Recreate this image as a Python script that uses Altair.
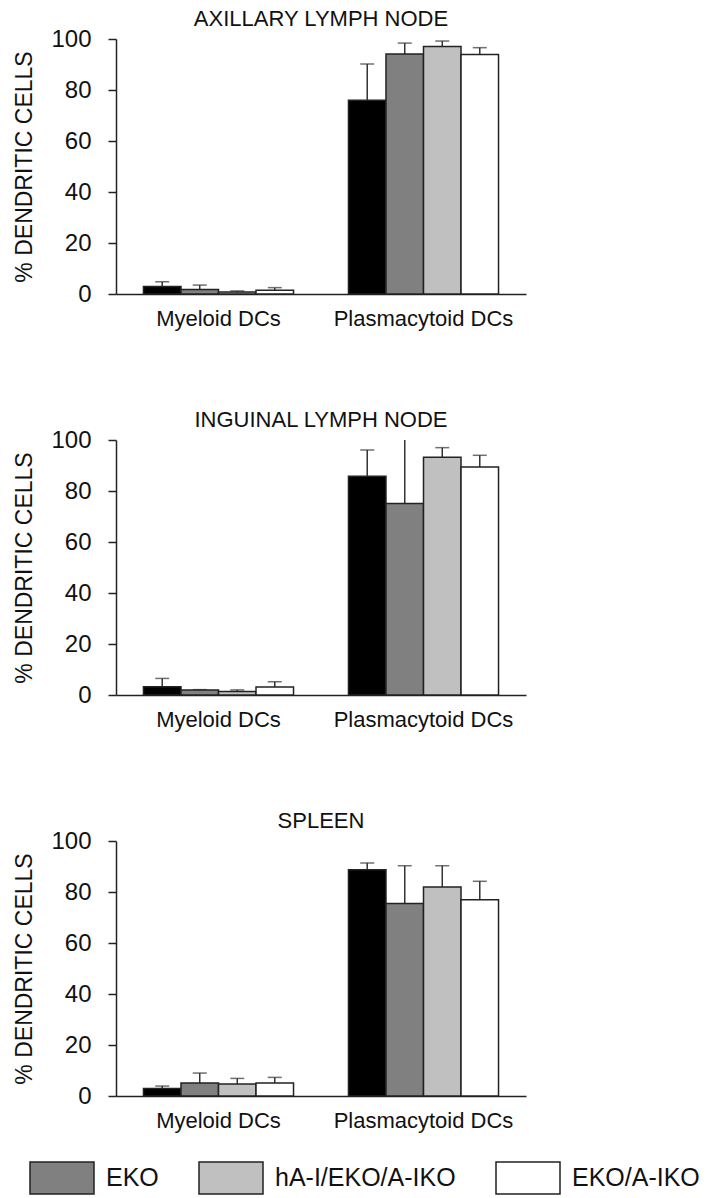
import altair as alt
import pandas as pd

panels = ["AXILLARY LYMPH NODE", "INGUINAL LYMPH NODE", "SPLEEN"]
cells = ["Myeloid DCs", "Plasmacytoid DCs"]
groups = ["WT", "EKO", "hA-I/EKO/A-IKO", "EKO/A-IKO"]
legend_groups = ["EKO", "hA-I/EKO/A-IKO", "EKO/A-IKO"]
fill_colors = ["#000000", "#808080", "#c0c0c0", "#ffffff"]

# mean values per panel: [myeloid x4, plasmacytoid x4]
axillary_mean = [2.9, 1.8, 0.8, 1.5, 76.0, 94.1, 97.1, 93.9]
axillary_err = [1.9, 1.7, 0.4, 1.0, 14.2, 4.3, 2.1, 2.7]
inguinal_mean = [3.2, 2.0, 1.4, 3.1, 85.8, 75.1, 93.2, 89.4]
inguinal_err = [3.3, 0.1, 0.6, 2.1, 10.3, 26.0, 3.8, 4.6]
spleen_mean = [2.9, 5.1, 4.7, 5.1, 88.7, 75.5, 82.0, 77.0]
spleen_err = [1.0, 3.9, 2.2, 2.2, 2.7, 14.8, 8.3, 7.2]

means = [axillary_mean, inguinal_mean, spleen_mean]
errs = [axillary_err, inguinal_err, spleen_err]

FONT = "Liberation Sans"
TXT = "#111111"
LINE = "#222222"


def panel_chart(title, mean, err):
    rows = []
    i = 0
    for c in cells:
        for g in groups:
            rows.append({"cell": c, "group": g, "value": mean[i],
                         "upper": mean[i] + err[i]})
            i += 1
    df = pd.DataFrame(rows)
    base = alt.Chart(df).encode(
        x=alt.X("cell:N",
                scale=alt.Scale(domain=cells, paddingInner=0.268, paddingOuter=0.134),
                axis=alt.Axis(title=None, labelAngle=0, ticks=False, labelFontSize=22,
                              labelPadding=14, labelFont=FONT, labelColor=TXT,
                              domainColor=LINE, domainWidth=1.5)),
        xOffset=alt.XOffset("group:N",
                            scale=alt.Scale(domain=groups, paddingInner=0, paddingOuter=0)),
    )
    yenc = alt.Y("value:Q",
                 scale=alt.Scale(domain=[0, 100], nice=False),
                 axis=alt.Axis(title="% DENDRITIC CELLS", values=[0, 20, 40, 60, 80, 100],
                               grid=False, tickSize=8, tickColor=LINE, tickWidth=1.5,
                               domainColor=LINE, domainWidth=1.5,
                               labelFontSize=24, labelFont=FONT, labelColor=TXT,
                               labelPadding=17,
                               titleFontSize=23, titleFont=FONT, titleColor=TXT,
                               titleFontWeight="normal", titlePadding=14))
    bars = base.mark_bar(stroke=LINE, strokeWidth=1.5).encode(
        y=yenc,
        fill=alt.Fill("group:N", scale=alt.Scale(domain=groups, range=fill_colors),
                      legend=alt.Legend(values=legend_groups, title=None, orient="none",
                                        legendX=-71, legendY=1122,
                                        direction="horizontal",
                                        symbolType="M-2,-1H2V1H-2Z", symbolSize=1024,
                                        symbolStrokeColor=LINE, symbolStrokeWidth=1.5,
                                        labelFontSize=25, labelFont=FONT, labelColor=TXT,
                                        labelOffset=27, columnPadding=37, labelLimit=300)),
    )
    rules = base.mark_rule(color="#333333", strokeWidth=1.5, clip=True).encode(
        y="value:Q", y2="upper:Q")
    caps = base.mark_tick(color="#333333", thickness=1.5, size=14, clip=True).encode(
        y="upper:Q")
    return alt.layer(rules, caps, bars).properties(
        width=410, height=255,
        title=alt.TitleParams(title, fontSize=22, font=FONT, color=TXT, fontWeight="normal",
                              anchor="middle", frame="group", offset=13, dy=17),
    )


charts = [panel_chart(panels[k], means[k], errs[k]) for k in range(3)]
chart = alt.vconcat(*charts, spacing=80).properties(
    padding={"left": 5, "top": 0, "right": 0, "bottom": 0}
).configure_view(stroke=None)

chart.save("out.html", embed_options={"renderer": "svg", "actions": False})
